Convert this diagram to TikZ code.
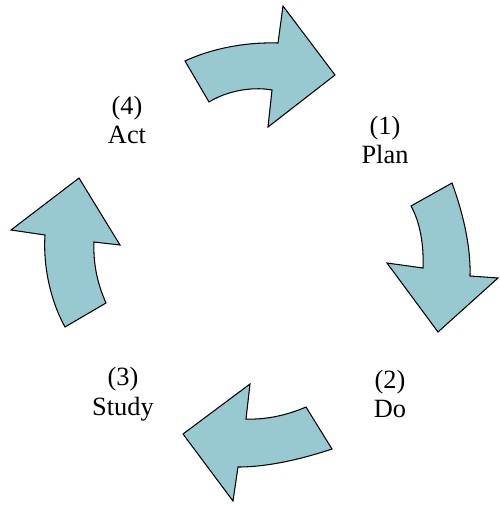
\documentclass[tikz,border=0pt]{standalone}
\usepackage{fontspec}
\setmainfont{Liberation Serif}
\usepackage{tikz}
\definecolor{arrowfill}{RGB}{152,201,208}

\begin{document}
\begin{tikzpicture}[x=0.02cm,y=-0.02cm, bigarrow/.style = {draw=black, fill=arrowfill, line width=0.6pt, line join=miter}, step label/.style = {align=center, font=\rmfamily\fontsize{15}{17}\selectfont}]
\useasboundingbox (0,0) rectangle (500,505);
\draw [bigarrow] (185,61) .. controls (215,47) and (250,42) .. (278,43) -- (283,6) -- (335,75) -- (268,127) -- (272,90) .. controls (250,86) and (225,92) .. (209,102) -- cycle;
\draw [bigarrow] (411,206) -- (452,183) .. controls (462,210) and (471,245) .. (470,276) -- (498,278) -- (438,332) -- (387,263) -- (423,268) .. controls (424,245) and (420,222) .. (411,206) -- cycle;
\draw [bigarrow] (183,434) -- (250,384) -- (246,419) .. controls (268,420) and (290,414) .. (306,407) -- (332,449) .. controls (305,458) and (270,467) .. (238,467) -- (233,501) -- cycle;
\draw [bigarrow] (79,178) -- (120,245) -- (94,242) .. controls (93,265) and (98,285) .. (106,303) -- (65,327) .. controls (50,300) and (43,265) .. (45,235) -- (11,230) -- cycle;
\node[step label](plan) at (385,140) {(1)\\Plan}; \node[step label](do) at (390,394) {(2)\\Do};
\node[step label](study) at (123,394) {(3)\\Study}; \node[step label](act) at (127,120) {(4)\\Act};
\end{tikzpicture}
\end{document}
